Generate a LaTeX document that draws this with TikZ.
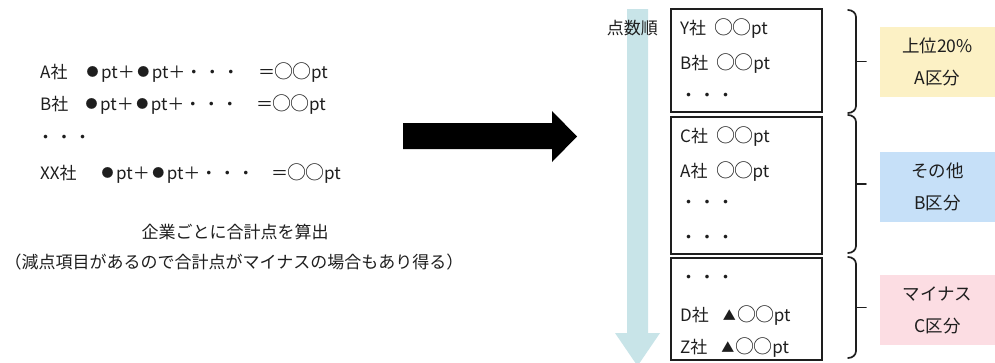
\documentclass[tikz,border=0pt]{standalone}
\usepackage{fontspec}
\setmainfont{Noto Sans CJK JP}
\definecolor{arrowblue}{RGB}{200,228,232}
\definecolor{catA}{RGB}{252,241,197}
\definecolor{catB}{RGB}{198,224,248}
\definecolor{catC}{RGB}{252,221,227}
\definecolor{inkc}{RGB}{30,30,30}
\newcommand{\dotsj}{・\hspace{1.5pt}・\hspace{1.5pt}・}
\newcommand{\bul}{\makebox[17pt]{\raisebox{1.5pt}{\fontsize{12}{12}\selectfont ●}}}
\newcommand{\cir}{\makebox[18pt]{\fontsize{19}{19}\selectfont ○}}
\newcommand{\tri}{\makebox[17pt]{\raisebox{1pt}{\fontsize{13}{13}\selectfont ▲}}}
\newcommand{\bracketat}[3]{% x, top, bottom
  \draw[bracketline] (#1-8,#2) to[out=0,in=90] (#1,#2+7) -- (#1,#3-7) to[out=-90,in=0] (#1-8,#3);
  \draw[bracketline] (#1,{(#2+#3)/2}) -- (#1+10,{(#2+#3)/2});}
\begin{document}
\begin{tikzpicture}[x=1pt,y=-1pt,
  txt/.style={anchor=base west, inner sep=0pt, font=\fontsize{17}{20}\selectfont, text=inkc},
  rankbox/.style={draw=inkc, line width=1.4pt, inner sep=0pt, minimum width=151pt},
  catbox/.style={fill=#1, draw=none, minimum width=115pt, minimum height=70pt, align=center, inner sep=0pt, font=\fontsize{17.5}{32}\selectfont, text=inkc},
  bracketline/.style={line width=1.7pt, draw=inkc, line cap=round}
]
\useasboundingbox (0,0) rectangle (995,362);
\fill[white] (0,0) rectangle (995,362);

% left: per-company totals
\node[txt] (a1) at (40,78) {A社};
\node[txt] (a2) at (84,78) {\bul pt＋\bul pt＋\dotsj};
\node[txt, anchor=base east] (a3) at (328,78) {＝\cir\cir pt};
\node[txt] (b1) at (40,110) {B社};
\node[txt] (b2) at (83,110) {\bul pt＋\bul pt＋\dotsj};
\node[txt, anchor=base east] (b3) at (326,110) {＝\cir\cir pt};
\node[txt] (d0) at (37,143) {\dotsj};
\node[txt] (x1) at (40,179) {XX社};
\node[txt] (x2) at (99,179) {\bul pt＋\bul pt＋\dotsj};
\node[txt, anchor=base east] (x3) at (341,179) {＝\cir\cir pt};
\node[txt, anchor=base] (cap1) at (235,238) {企業ごとに合計点を算出};
\node[txt, anchor=base] (cap2) at (234,268) {（減点項目があるので合計点がマイナスの場合もあり得る）};

% big arrow
\fill[black] (403,123) -- (552,123) -- (552,111) -- (577,136.5) -- (552,162) -- (552,149) -- (403,149) -- cycle;

% vertical ranking arrow
\fill[arrowblue] (627,9) -- (648,9) -- (648,333) -- (660,333) -- (637.5,366) -- (615,333) -- (627,333) -- cycle;
\node[txt, anchor=base east] (order) at (658,34) {点数順};

% ranking boxes
\node[rankbox, minimum height=103pt] (r1) at (746.5,60.5) {};
\node[rankbox, minimum height=137pt] (r2) at (746.5,185.5) {};
\node[rankbox, minimum height=102pt] (r3) at (746.5,309) {};

\node[txt] (y) at (680,34) {Y社\hspace{9pt}\cir\cir pt};
\node[txt] (bb) at (680,69) {B社\hspace{9pt}\cir\cir pt};
\node[txt] (r1d) at (680,101) {\dotsj};
\node[txt] (c) at (680,142) {C社\hspace{9pt}\cir\cir pt};
\node[txt] (a) at (680,177) {A社\hspace{9pt}\cir\cir pt};
\node[txt] (r2d1) at (680,208) {\dotsj};
\node[txt] (r2d2) at (680,243) {\dotsj};
\node[txt] (r3d) at (680,283) {\dotsj};
\node[txt] (d) at (680,321) {D社\hspace{12pt}\tri\cir\cir pt};
\node[txt] (z) at (680,353) {Z社\hspace{12pt}\tri\cir\cir pt};

% brackets
\bracketat{856}{10}{113}
\bracketat{856}{115}{253}
\bracketat{856}{257}{358}

% category boxes
\node[catbox=catA] (ka) at (937.5,62) {上位20\%\\A区分};
\node[catbox=catB] (kb) at (937.5,187) {その他\\B区分};
\node[catbox=catC] (kc) at (937.5,310) {マイナス\\C区分};
\end{tikzpicture}
\end{document}
